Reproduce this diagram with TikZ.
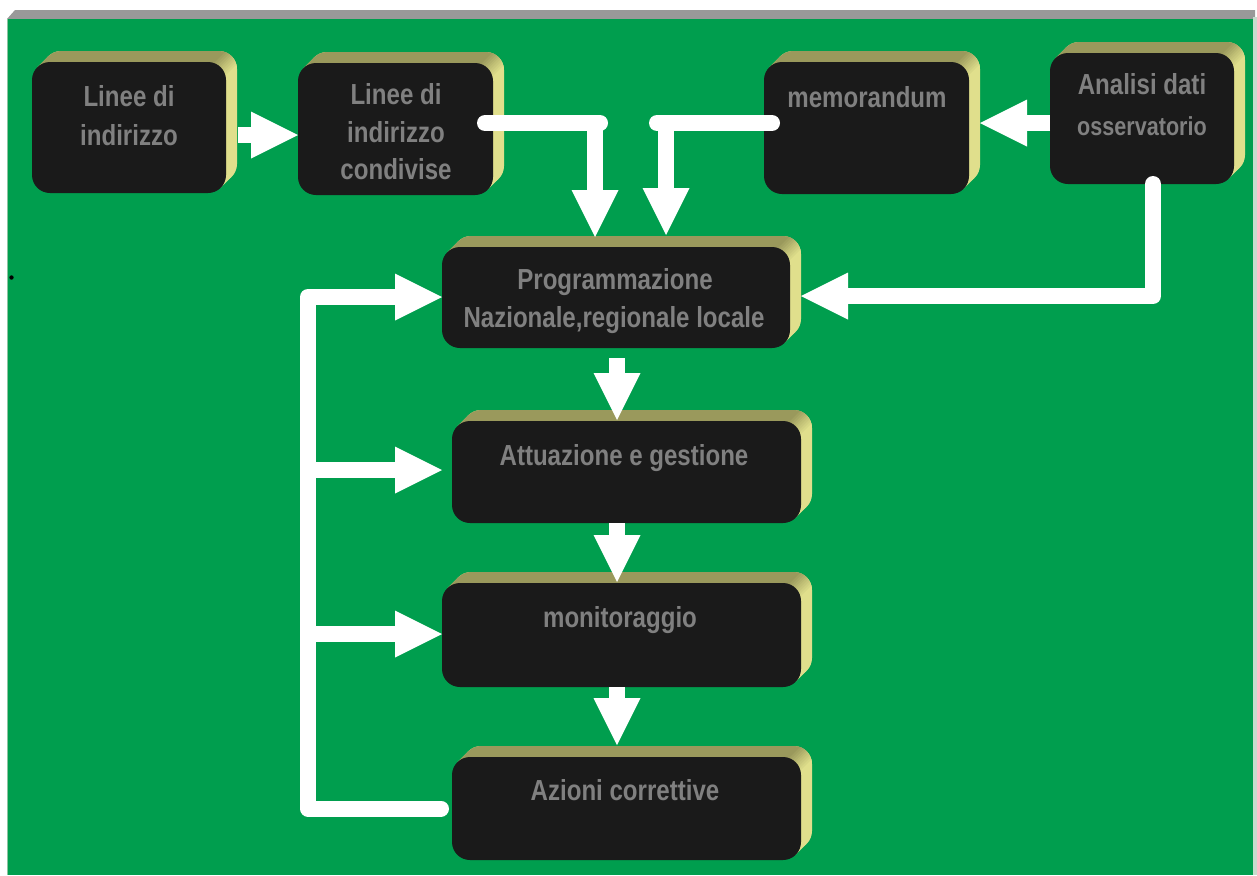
\documentclass[tikz,border=0pt]{standalone}
\usepackage{fontspec}
\setmainfont{Liberation Sans}[FakeStretch=0.83]
\usetikzlibrary{arrows.meta,calc}
\definecolor{bggreen}{HTML}{009E4E}
\definecolor{topgray}{HTML}{999999}
\definecolor{boxblack}{HTML}{1A1A1A}
\definecolor{bevtop}{HTML}{9A995C}
\definecolor{bevside}{HTML}{E0DF8C}
\definecolor{txtgray}{HTML}{808080}
\definecolor{edgel}{HTML}{8CC4A0}
\definecolor{edger}{HTML}{C8DCCD}

\newcommand\bevbox[5]{%
  \pgfmathsetmacro\bxa{#2}%
  \pgfmathsetmacro\bya{#3}%
  \pgfmathsetmacro\bxb{#4}%
  \pgfmathsetmacro\byb{#5}%
  \pgfmathsetmacro\bw{(#4-#2)*0.5}%
  \pgfmathsetmacro\bh{(#5-#3)*0.5}%
  \def\bd{11}\def\bk{5.27}%
  \fill[bevside,rounded corners=9pt] (\bxa+\bd,\bya-\bd) rectangle (\bxb+\bd,\byb-\bd);
  \fill[bevside] (\bxa+\bk,\bya+\bk) -- (\bxa+\bk+\bd,\bya+\bk-\bd) -- (\bxb-\bk+\bd,\byb-\bk-\bd) -- (\bxb-\bk,\byb-\bk) -- cycle;
  \begin{scope}
    \clip (\bxb-\bk+400,\bya+\bk-400) -- (\bxb-\bk-400,\bya+\bk+400) -- (\bxb-\bk-800,\bya+\bk) -- (\bxb-\bk,\bya+\bk-800) -- cycle;
    \fill[bevtop,rounded corners=9pt] (\bxa+\bd,\bya-\bd) rectangle (\bxb+\bd,\byb-\bd);
    \fill[bevtop] (\bxa+\bk,\bya+\bk) -- (\bxa+\bk+\bd,\bya+\bk-\bd) -- (\bxb-\bk+\bd,\byb-\bk-\bd) -- (\bxb-\bk,\byb-\bk) -- cycle;
  \end{scope}
  \begin{scope}
    \clip[rounded corners=9pt] (\bxa+\bd,\bya-\bd) rectangle (\bxb+\bd,\byb-\bd);
    \clip (\bxb-14,\bya-\bd) rectangle (\bxb+\bd,\bya+16);
    \foreach \s in {0,...,9}{%
      \pgfmathtruncatemacro\pc{\s*100/9}%
      \pgfmathsetmacro\sa{-14+3*\s}%
      \pgfmathsetmacro\sb{\sa+3.4}%
      \fill[bevside!\pc!bevtop] (\bxb+\sa+60,\bya-60) -- (\bxb+\sa-60,\bya+60) -- (\bxb+\sb-60,\bya+60) -- (\bxb+\sb+60,\bya-60) -- cycle;
    }
  \end{scope}
  \node[face,minimum width=\bw pt,minimum height=\bh pt] (#1) at ({(\bxa+\bxb)/2},{(\bya+\byb)/2}) {};
}

\begin{document}
\begin{tikzpicture}[x=0.5pt,y=-0.5pt,
  face/.style={rectangle,rounded corners=9pt,fill=boxblack,inner sep=0pt,outer sep=0pt},
  lbl/.style={text=txtgray,font=\bfseries\fontsize{14.5pt}{19pt}\selectfont,inner sep=0pt,anchor=base},
  lblsm/.style={text=txtgray,font=\bfseries\fontsize{13pt}{17pt}\selectfont,inner sep=0pt,anchor=base},
  warrow/.style={draw=white,line width=8pt,-{Triangle[length=23.5pt 0 0,width=23.5pt 0 0,line width=0pt 0 0]}}]
\useasboundingbox (0,0) rectangle (1257,875);
\fill[white] (0,0) rectangle (1257,875);
% panel
\fill[topgray] (15,10) -- (1255,10) -- (1255,19) -- (7,19) -- cycle;
\fill[bggreen] (8,19) rectangle (1253,875);
\fill[edgel] (7,19) rectangle (8,875);
\fill[edger] (1253,17) rectangle (1257,875);
\fill[black] (11.5,277.5) circle (1.1pt);

% boxes
\bevbox{l1}{32}{62}{226}{193}
\bevbox{l2}{298}{63}{493}{195}
\bevbox{mem}{764}{62}{969}{194}
\bevbox{ana}{1050}{53}{1234}{184}
\bevbox{prog}{442}{247}{790}{348}
\bevbox{att}{452}{421}{801}{523}
\bevbox{mon}{442}{583}{801}{687}
\bevbox{az}{452}{757}{801}{860}

% labels
\node[lbl] (t1a) at (129,106) {Linee di};
\node[lbl] (t1b) at (129,145) {indirizzo};
\node[lbl] (t2a) at (396,104) {Linee di};
\node[lbl] (t2b) at (396,142) {indirizzo};
\node[lbl] (t2c) at (396,179) {condivise};
\node[lbl] (t3a) at (867,107) {memorandum};
\node[lbl] (t4a) at (1142,94) {Analisi dati};
\node[lblsm] (t4b) at (1142,135) {osservatorio};
\node[lbl] (t5a) at (615,289) {Programmazione};
\node[lbl] (t5b) at (614,327) {Nazionale,regionale locale};
\node[lbl] (t6a) at (624,465) {Attuazione e gestione};
\node[lbl] (t7a) at (620,627) {monitoraggio};
\node[lbl] (t8a) at (625,800) {Azioni correttive};

% connectors
\coordinate (colx) at (617,0);
\coordinate (fbx) at (308,0);
\coordinate (c2) at ($(l2.east)+(102,-6)$);
\coordinate (c3) at ($(mem.west)+(-98,-5)$);
\coordinate (fbp) at ($(prog.west)+(0,-0.5)$);
\coordinate (fba) at ($(att.west)+(-10,-2)$);
\coordinate (fbm) at ($(mon.west)+(0,-1)$);

\draw[warrow] ($(l1.east)+(12,7.5)$) -- ($(l2.west)+(0,6)$);
\draw[warrow,line cap=round] ($(l2.east)+(-8,-6)$) -- ($(c2)+(5,0)$) (c2) -- ($(c2 |- prog.north)+(0,-10)$);
\draw[warrow,line cap=round] ($(mem.west)+(8,-5)$) -- ($(c3)+(-9,0)$) (c3) -- ($(c3 |- prog.north)+(0,-12)$);
\draw[warrow] ($(ana.west)+(0,4.5)$) -- ($(mem.east)+(11,-5)$);
\draw[warrow,line cap=round,line join=round] ($(ana.south)+(11,0)$) |- ($(prog.east)+(11,-1.5)$);
\draw[warrow] ($(colx |- prog.south)+(0,10)$) -- ($(colx |- att.north)+(0,-1)$);
\draw[warrow] (colx |- att.south) -- ($(colx |- mon.north)+(0,-1)$);
\draw[warrow] (colx |- mon.south) -- ($(colx |- az.north)+(0,-12)$);
\draw[warrow,line cap=round,line join=round] ($(az.west)+(-11,0)$) -| (fbx |- fbp) -- (fbp);
\draw[warrow] (fbx |- fba) -- (fba);
\draw[warrow] (fbx |- fbm) -- (fbm);
\end{tikzpicture}
\end{document}
